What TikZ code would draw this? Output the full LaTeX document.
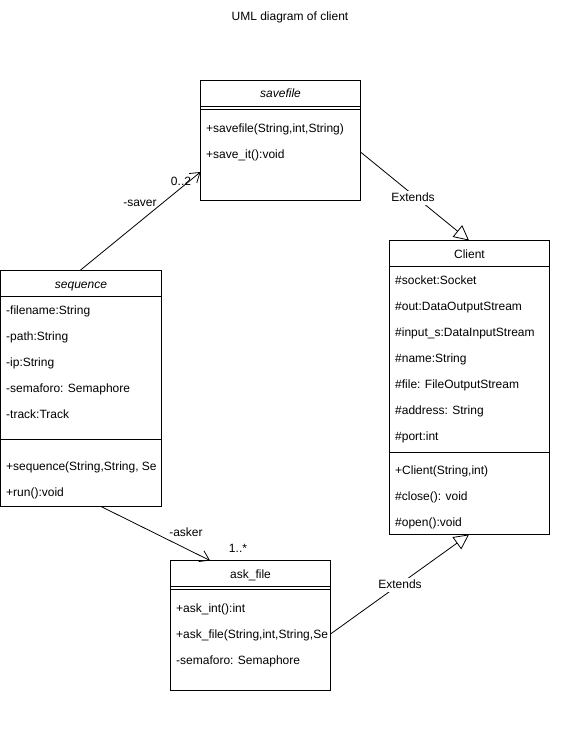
\documentclass[tikz,border=0pt]{standalone}
\usepackage{fontspec}
\setmainfont{Liberation Sans}
\usetikzlibrary{arrows.meta}
\begin{document}
\begin{tikzpicture}[x=1pt,y=-1pt,
  txt/.style={inner sep=0pt, font=\fontsize{12}{14}\selectfont, text height=9pt, text depth=2.5pt},
  attr/.style={txt, anchor=west},
  hdr/.style={txt},
  frame/.style={draw=black, line width=1pt},
  assoc/.style={draw=black, line width=0.8pt, -{Straight Barb[length=9pt,width=12pt,line width=0.8pt]}},
  ext/.style={draw=black, line width=0.8pt, -{Triangle[open,length=15pt,width=15pt,line width=0.8pt]}},
  lbl/.style={txt, fill=white, inner sep=1pt}
]
\useasboundingbox (0,0) rectangle (561,732);
\node[txt] (title) at (290,17) {UML diagram of client};

% savefile
\draw[frame] (200.5,80.5) rectangle (360.5,200.5);
\draw[frame] (200.5,106) -- (360.5,106);
\draw[frame] (200.5,109.5) -- (360.5,109.5);
\node[hdr, font=\fontsize{12}{14}\selectfont\itshape] (savefileH) at (280.5,94) {savefile};
\node[attr] (sf1) at (206,129) {+savefile(String,int,String)};
\node[attr] (sf2) at (206,155) {+save\_it():void};
\coordinate (sfL) at (200.5,172);
\coordinate (sfR) at (360.5,152);

% sequence
\draw[frame] (0.5,270.5) rectangle (161.5,506.5);
\draw[frame] (0.5,296.5) -- (161.5,296.5);
\draw[frame] (0.5,439.5) -- (161.5,439.5);
\node[hdr, font=\fontsize{12}{14}\selectfont\itshape] (seqH) at (81,285) {sequence};
\node[attr] (sq1) at (6,311) {-filename:String};
\node[attr] (sq2) at (6,337) {-path:String};
\node[attr] (sq3) at (6,363) {-ip:String};
\node[attr] (sq4) at (6,389) {-semaforo: Semaphore};
\node[attr] (sq5) at (6,415) {-track:Track};
\node[attr] (sq6) at (6,467) {+sequence(String,String, Se};
\node[attr] (sq7) at (6,493) {+run():void};
\coordinate (sqT) at (80,270.5);
\coordinate (sqB) at (101,506.5);

% Client
\draw[frame] (389.5,240.5) rectangle (549.5,534.5);
\draw[frame] (389.5,266.5) -- (549.5,266.5);
\draw[frame] (389.5,452) -- (549.5,452);
\node[hdr] (clientH) at (469.5,255) {Client};
\node[attr] (c1) at (395,281) {\#socket:Socket};
\node[attr] (c2) at (395,307) {\#out:DataOutputStream};
\node[attr] (c3) at (395,333) {\#input\_s:DataInputStream};
\node[attr] (c4) at (395,359) {\#name:String};
\node[attr] (c5) at (395,385) {\#file: FileOutputStream};
\node[attr] (c6) at (395,411) {\#address: String};
\node[attr] (c7) at (395,437) {\#port:int};
\node[attr] (c8) at (395,471) {+Client(String,int)};
\node[attr] (c9) at (395,497) {\#close(): void};
\node[attr] (c10) at (395,523) {\#open():void};
\coordinate (cT) at (469,240.5);
\coordinate (cB) at (469,534.5);

% ask_file
\draw[frame] (170.5,560.5) rectangle (330.5,690.5);
\draw[frame] (170.5,586) -- (330.5,586);
\draw[frame] (170.5,589.5) -- (330.5,589.5);
\node[hdr] (askH) at (250.5,575) {ask\_file};
\node[attr] (a1) at (176,609) {+ask\_int():int};
\node[attr] (a2) at (176,635) {+ask\_file(String,int,String,Se};
\node[attr] (a3) at (176,661) {-semaforo: Semaphore};
\coordinate (aT) at (210,560.5);
\coordinate (aR) at (330.5,634);

% connectors
\draw[assoc] (sqT) -- (sfL);
\node[txt] (saver) at (140,203) {-saver};
\node[txt] (m1) at (181,182) {0..2};
\draw[assoc] (sqB) -- (aT);
\node[txt] (asker) at (186,533) {-asker};
\node[txt] (m2) at (238,549) {1..*};
\draw[ext] (sfR) -- (cT);
\node[lbl] (e1) at (413,198) {Extends};
\draw[ext] (aR) -- (cB);
\node[lbl] (e2) at (400,585) {Extends};
\end{tikzpicture}
\end{document}
